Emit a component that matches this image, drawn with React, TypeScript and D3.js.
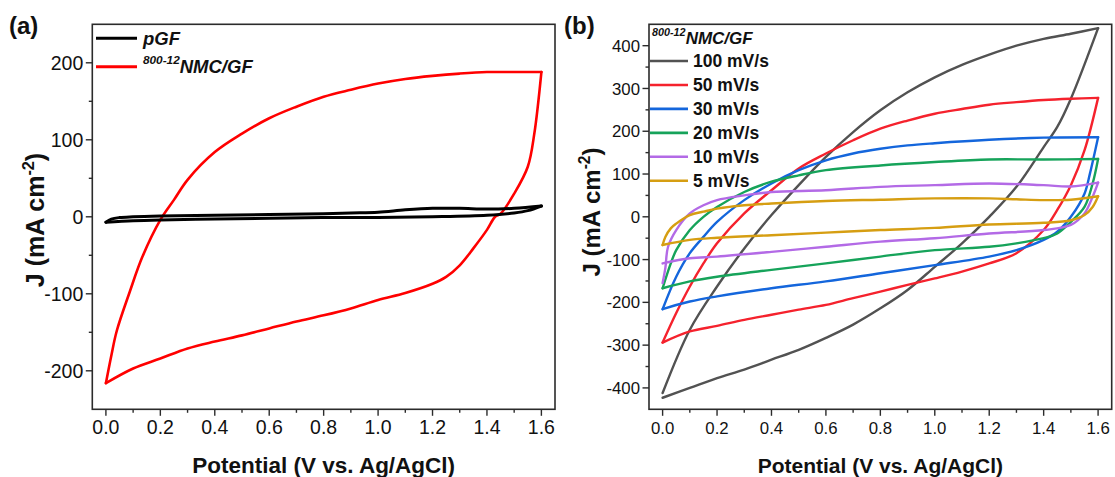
import React from "react";
import * as d3 from "d3";

// ---------- Data (Potential V, J mA cm^-2) ----------
// Panel (a)
const pgfX = [0, 0.02, 0.05, 0.1, 0.2, 0.4, 0.6, 0.8, 0.9, 1.0, 1.1, 1.2, 1.3, 1.4, 1.5, 1.6, 1.55, 1.5, 1.4, 1.2, 1.0, 0.8, 0.6, 0.4, 0.2, 0.1, 0.0];
const pgfY = [-7, -3, -1, 0, 1, 2, 3, 4, 5, 6, 9, 11, 11, 10, 11, 14, 8, 5, 2, 0, -1, -1, -2, -3, -4, -5, -7];

const nmcX = [0, 0.02, 0.04, 0.088, 0.134, 0.2, 0.25, 0.3, 0.4, 0.5, 0.6, 0.7, 0.8, 0.9, 1.0, 1.1, 1.2, 1.3, 1.4, 1.5, 1.6,
  1.574, 1.55, 1.5, 1.45, 1.43, 1.4, 1.35, 1.3, 1.25, 1.2, 1.1, 1.0, 0.9, 0.8, 0.7, 0.6, 0.5, 0.4, 0.3, 0.2, 0.1, 0.0];
const nmcY = [-216, -180, -148, -97, -52, -4, 22, 48, 84, 108, 128, 143, 156, 165, 173, 179, 183, 186, 188, 188, 188,
  108, 65, 30, 4, 0, -17, -41, -63, -78, -87, -99, -108, -119, -128, -136, -145, -154, -162, -171, -184, -197, -216];

// Panel (b) scan rates
const rateLabels = ["100 mV/s", "50 mV/s", "30 mV/s", "20 mV/s", "10 mV/s", "5 mV/s"];
const rateColors = ["#525252", "#f5222d", "#1466dc", "#16a35a", "#b36ae6", "#d69e12"];

const r100X = [0, 0.1, 0.2, 0.3, 0.4, 0.5, 0.6, 0.7, 0.8, 0.9, 1.0, 1.1, 1.2, 1.3, 1.4, 1.5, 1.6,
  1.5, 1.45, 1.4, 1.3, 1.2, 1.1, 1.0, 0.9, 0.8, 0.7, 0.6, 0.5, 0.4, 0.3, 0.2, 0.1, 0.0];
const r100Y = [-412, -264, -163, -74, 4, 74, 140, 198, 249, 291, 326, 355, 379, 400, 416, 428, 441,
  276, 210, 163, 70, 0, -62, -117, -171, -214, -252, -283, -311, -334, -357, -377, -400, -423];

const r50X = [0, 0.05, 0.1, 0.15, 0.2, 0.3, 0.4, 0.5, 0.6, 0.7, 0.8, 0.9, 1.0, 1.1, 1.2, 1.3, 1.4, 1.5, 1.6,
  1.55, 1.5, 1.45, 1.4, 1.3, 1.2, 1.1, 1.0, 0.9, 0.8, 0.7, 0.6, 0.5, 0.4, 0.3, 0.2, 0.1, 0.0];
const r50Y = [-294, -225, -163, -109, -62, 8, 62, 113, 148, 179, 206, 225, 241, 252, 262, 268, 273, 276, 278,
  155, 74, 16, -31, -85, -109, -128, -144, -159, -175, -190, -206, -217, -229, -241, -255, -268, -294];

const r30X = [0, 0.05, 0.1, 0.15, 0.2, 0.3, 0.4, 0.5, 0.6, 0.7, 0.8, 0.9, 1.0, 1.2, 1.4, 1.6,
  1.57, 1.55, 1.5, 1.45, 1.4, 1.3, 1.2, 1.0, 0.8, 0.6, 0.4, 0.2, 0.1, 0.0];
const r30Y = [-216, -140, -85, -47, -12, 39, 78, 109, 132, 148, 159, 167, 172, 180, 185, 186,
  101, 54, 0, -35, -54, -78, -93, -113, -132, -151, -167, -186, -198, -216];

const r20X = [0, 0.03, 0.05, 0.1, 0.15, 0.2, 0.3, 0.4, 0.5, 0.6, 0.8, 1.0, 1.2, 1.4, 1.6,
  1.58, 1.55, 1.5, 1.45, 1.4, 1.3, 1.2, 1.0, 0.8, 0.6, 0.4, 0.2, 0.1, 0.0];
const r20Y = [-167, -109, -78, -31, 0, 23, 58, 82, 97, 109, 120, 128, 134, 134, 135,
  78, 23, -12, -39, -50, -62, -70, -78, -93, -109, -124, -140, -151, -167];

const r10X = [0, 0.01, 0.02, 0.05, 0.1, 0.15, 0.2, 0.3, 0.4, 0.6, 0.8, 1.0, 1.2, 1.4, 1.5, 1.6,
  1.58, 1.55, 1.5, 1.4, 1.2, 1.0, 0.8, 0.6, 0.4, 0.2, 0.1, 0.0];
const r10Y = [-155, -120, -70, -31, 8, 27, 39, 50, 58, 62, 70, 74, 78, 74, 71, 80,
  47, 8, -19, -31, -39, -50, -58, -70, -82, -93, -97, -109];

const r5X = [0, 0.01, 0.03, 0.05, 0.1, 0.15, 0.2, 0.3, 0.4, 0.6, 0.8, 1.0, 1.2, 1.3, 1.4, 1.5, 1.6,
  1.58, 1.55, 1.5, 1.4, 1.2, 1.0, 0.8, 0.6, 0.4, 0.2, 0.1, 0.0];
const r5Y = [-66, -47, -27, -16, 4, 12, 19, 27, 31, 37, 40, 43, 43, 41, 39, 40, 48,
  23, 4, -8, -14, -18, -26, -31, -37, -43, -49, -54, -66];

const xTicks = [0, 0.2, 0.4, 0.6, 0.8, 1.0, 1.2, 1.4, 1.6];
const yTicksA = [-200, -100, 0, 100, 200];
const yTicksB = [-400, -300, -200, -100, 0, 100, 200, 300, 400];

const FONT = "'Liberation Sans', Arial, Helvetica, sans-serif";
const AXIS = "#2b2b2b";

type Series = { xs: number[]; ys: number[]; color: string; width: number };

// split a CV loop into forward (anodic) and reverse (cathodic) branches
function branches(xs: number[], ys: number[]): [number, number][][] {
  const iMax = xs.indexOf(d3.max(xs) as number);
  const fwd = xs.slice(0, iMax + 1).map((x, j) => [x, ys[j]] as [number, number]);
  const rev = xs.slice(iMax).map((x, j) => [x, ys[iMax + j]] as [number, number]);
  return [fwd, rev];
}

function Panel(props: {
  x0: number; x1: number; y0: number; y1: number;
  yDomain: [number, number]; yTicks: number[]; yMinorStep: number;
  series: Series[]; tickFont: number; titleFont: number; yTitleFont: number; yTitleX: number; yTitleY: number;
}) {
  const { x0, x1, y0, y1, yDomain, yTicks, yMinorStep, series, tickFont, titleFont, yTitleFont, yTitleX, yTitleY } = props;
  const xs = d3.scaleLinear().domain([-0.05, 1.65]).range([x0, x1]);
  const ys = d3.scaleLinear().domain(yDomain).range([y1, y0]);
  const minorX = [0.1, 0.3, 0.5, 0.7, 0.9, 1.1, 1.3, 1.5];
  const minorY = d3.range(yDomain[0] + yMinorStep, yDomain[1], yMinorStep).filter((v) => Math.abs(v % 100) === 50);
  const line = d3.line<[number, number]>().x((d) => xs(d[0])).y((d) => ys(d[1])).curve(d3.curveCatmullRom.alpha(0.5));
  return (
    <g>
      <defs>
        <clipPath id={`clip${Math.round(x0)}`}>
          <rect x={x0} y={y0} width={x1 - x0} height={y1 - y0} />
        </clipPath>
      </defs>
      <g clipPath={`url(#clip${Math.round(x0)})`}>
        {series.map((s, i) => {
          const [f, r] = branches(s.xs, s.ys);
          return (
            <g key={i}>
              <path d={line(f) || ""} fill="none" stroke={s.color} strokeWidth={s.width} strokeLinejoin="round" strokeLinecap="round" />
              <path d={line(r) || ""} fill="none" stroke={s.color} strokeWidth={s.width} strokeLinejoin="round" strokeLinecap="round" />
            </g>
          );
        })}
      </g>
      <rect x={x0} y={y0} width={x1 - x0} height={y1 - y0} fill="none" stroke={AXIS} strokeWidth={1.6} />
      {xTicks.map((t) => (
        <g key={"xt" + t}>
          <line x1={xs(t)} x2={xs(t)} y1={y1} y2={y1 + 6.5} stroke={AXIS} strokeWidth={1.4} />
          <text x={xs(t)} y={y1 + 24.5} textAnchor="middle" fontSize={tickFont} fontFamily={FONT} fill="#111">{t.toFixed(1)}</text>
        </g>
      ))}
      {minorX.map((t) => (
        <line key={"xm" + t} x1={xs(t)} x2={xs(t)} y1={y1} y2={y1 + 3.5} stroke={AXIS} strokeWidth={1.4} />
      ))}
      {yTicks.map((t) => (
        <g key={"yt" + t}>
          <line x1={x0 - 6.5} x2={x0} y1={ys(t)} y2={ys(t)} stroke={AXIS} strokeWidth={1.4} />
          <text x={x0 - 9} y={ys(t)} dy="0.36em" textAnchor="end" fontSize={tickFont} fontFamily={FONT} fill="#111">{t}</text>
        </g>
      ))}
      {minorY.map((t) => (
        <line key={"ym" + t} x1={x0 - 3.5} x2={x0} y1={ys(t)} y2={ys(t)} stroke={AXIS} strokeWidth={1.4} />
      ))}
      <text x={(x0 + x1) / 2} y={473} textAnchor="middle" fontSize={titleFont} fontWeight="bold" fontFamily={FONT} fill="#111">
        Potential (V vs. Ag/AgCl)
      </text>
      <text transform={`translate(${yTitleX},${yTitleY}) rotate(-90)`} textAnchor="middle" fontSize={yTitleFont}
        fontWeight="bold" fontFamily={FONT} fill="#111">
        J (mA cm<tspan dy={-yTitleFont * 0.4} fontSize={yTitleFont * 0.65}>-2</tspan><tspan dy={yTitleFont * 0.4}>)</tspan>
      </text>
    </g>
  );
}

export default function App() {
  const seriesA: Series[] = [
    { xs: nmcX, ys: nmcY, color: "#ff0000", width: 2.6 },
    { xs: pgfX, ys: pgfY, color: "#000000", width: 3 },
  ];
  const bX = [r100X, r50X, r30X, r20X, r10X, r5X];
  const bY = [r100Y, r50Y, r30Y, r20Y, r10Y, r5Y];
  const seriesB: Series[] = bX.map((xs, i) => ({ xs, ys: bY[i], color: rateColors[i], width: 2.4 }));

  return (
    <svg width={1115} height={477} style={{ position: "absolute", left: 0, top: 0, background: "#fff" }}>
      <rect x={0} y={0} width={1115} height={477} fill="#fff" />
      <Panel x0={92.3} x1={555} y0={24.3} y1={409.3} yDomain={[-250, 250]} yTicks={yTicksA} yMinorStep={50}
        series={seriesA} tickFont={19.5} titleFont={22.5} yTitleFont={25} yTitleX={44} yTitleY={220} />
      <Panel x0={649} x1={1111.7} y0={24.3} y1={409.3} yDomain={[-450, 450]} yTicks={yTicksB} yMinorStep={50}
        series={seriesB} tickFont={16.8} titleFont={21} yTitleFont={24} yTitleX={600} yTitleY={212} />

      {/* panel labels */}
      <text x={9} y={34} fontSize={24} fontWeight="bold" fontFamily={FONT} fill="#111">(a)</text>
      <text x={564} y={34} fontSize={24} fontWeight="bold" fontFamily={FONT} fill="#111">(b)</text>

      {/* legend a */}
      <line x1={96} x2={137} y1={38.3} y2={38.3} stroke="#000" strokeWidth={3} />
      <text x={143} y={44.5} fontSize={18.5} fontWeight="bold" fontStyle="italic" fontFamily={FONT} fill="#111">pGF</text>
      <line x1={96} x2={137} y1={66.7} y2={66.7} stroke="#ff0000" strokeWidth={3} />
      <text x={143} y={73} fontSize={18.5} fontWeight="bold" fontStyle="italic" fontFamily={FONT} fill="#111">
        <tspan fontSize={11.8} dy={-9}>800-12</tspan><tspan dy={9}>NMC/GF</tspan>
      </text>

      {/* legend b */}
      <text x={652} y={44} fontSize={17} fontWeight="bold" fontStyle="italic" fontFamily={FONT} fill="#111">
        <tspan fontSize={10.8} dy={-8}>800-12</tspan><tspan dy={8}>NMC/GF</tspan>
      </text>
      {rateLabels.map((lab, i) => {
        const y = 61 + i * 23.95;
        return (
          <g key={lab}>
            <line x1={650} x2={688} y1={y} y2={y} stroke={rateColors[i]} strokeWidth={2.6} />
            <text x={693} y={y + 6.2} fontSize={17.5} fontWeight="bold" fontFamily={FONT} fill="#111">{lab}</text>
          </g>
        );
      })}
    </svg>
  );
}
